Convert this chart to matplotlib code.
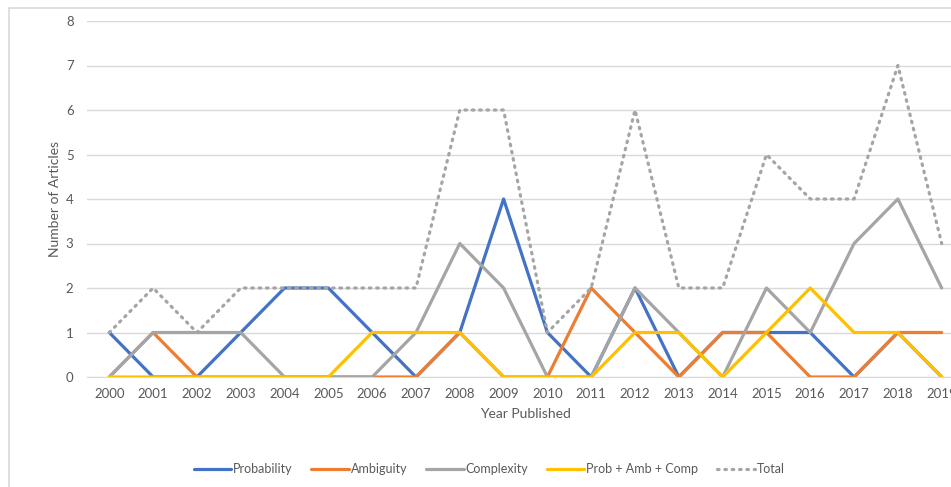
import matplotlib
matplotlib.use("Agg")
import matplotlib.pyplot as plt
from matplotlib.patches import Rectangle

plt.rcParams['font.family'] = ['Lato', 'DejaVu Sans']

# data
years = list(range(2000, 2020))
probability = [1, 0, 0, 1, 2, 2, 1, 0, 1, 4, 1, 0, 2, 0, 1, 1, 1, 0, 1, 0]
ambiguity = [0, 1, 0, 0, 0, 0, 0, 0, 1, 0, 0, 2, 1, 0, 1, 1, 0, 0, 1, 1]
complexity = [0, 1, 1, 1, 0, 0, 0, 1, 3, 2, 0, 0, 2, 1, 0, 2, 1, 3, 4, 2]
prob_amb_comp = [0, 0, 0, 0, 0, 0, 1, 1, 1, 0, 0, 0, 1, 1, 0, 1, 2, 1, 1, 0]
total = [1, 2, 1, 2, 2, 2, 2, 2, 6, 6, 1, 2, 6, 2, 2, 5, 4, 4, 7, 3]

series_names = ['Probability', 'Ambiguity', 'Complexity', 'Prob + Amb + Comp']
series_colors = ['#4472C4', '#ED7D31', '#A5A5A5', '#FFC000']

W, H = 951, 487
fig = plt.figure(figsize=(W / 100, H / 100), dpi=100)

# plot area in pixels (right edge runs past the cropped image)
left_px, right_px = 87.4, 963.6
top_px, bottom_px = 21, 377
ax = fig.add_axes([left_px / W, 1 - bottom_px / H,
                   (right_px - left_px) / W, (bottom_px - top_px) / H])

# chart border, also cropped on the right and bottom
fig.patches.append(Rectangle((9 / W, -0.1), 1.2, 1 - 8 / H + 0.1,
                             transform=fig.transFigure, fill=False,
                             edgecolor='#D9D9D9', linewidth=1.2))

x = list(range(len(years)))
for vals, name, col in zip([probability, ambiguity, complexity, prob_amb_comp],
                           series_names, series_colors):
    ax.plot(x, vals, color=col, linewidth=2.3, label=name,
            solid_joinstyle='round', solid_capstyle='round', zorder=3)
ax.plot(x, total, color='#A5A5A5', linewidth=2.3, linestyle=(0, (0.5, 1.8)),
        dash_capstyle='round', label='Total', zorder=3)

ax.set_xlim(-0.5, len(years) - 0.5)
ax.set_ylim(0, 8)
ax.set_yticks(range(0, 9))
ax.set_xticks(x)
ax.set_xticklabels([str(y) for y in years])
ax.grid(axis='y', color='#D9D9D9', linewidth=1)
ax.set_axisbelow(True)
for s in ['top', 'right', 'left']:
    ax.spines[s].set_visible(False)
ax.spines['bottom'].set_color('#D9D9D9')
ax.tick_params(length=0, labelsize=9.5, colors='#595959', pad=8)
ax.tick_params(axis='y', pad=10)

ax.set_xlabel('Year Published', fontsize=10, color='#595959', labelpad=6)
fig.text(55 / W, 1 - 199 / H, 'Number of Articles', rotation=90,
         fontsize=10, color='#595959', ha='center', va='center')

handles, labels = ax.get_legend_handles_labels()
fig.legend(handles, labels, loc='center', bbox_to_anchor=(489 / W, 1 - 469 / H),
           ncol=5, frameon=False, fontsize=9, handlelength=3.0,
           handletextpad=0.15, columnspacing=1.5, labelcolor='#595959')

fig.savefig('out.png', dpi=100)
